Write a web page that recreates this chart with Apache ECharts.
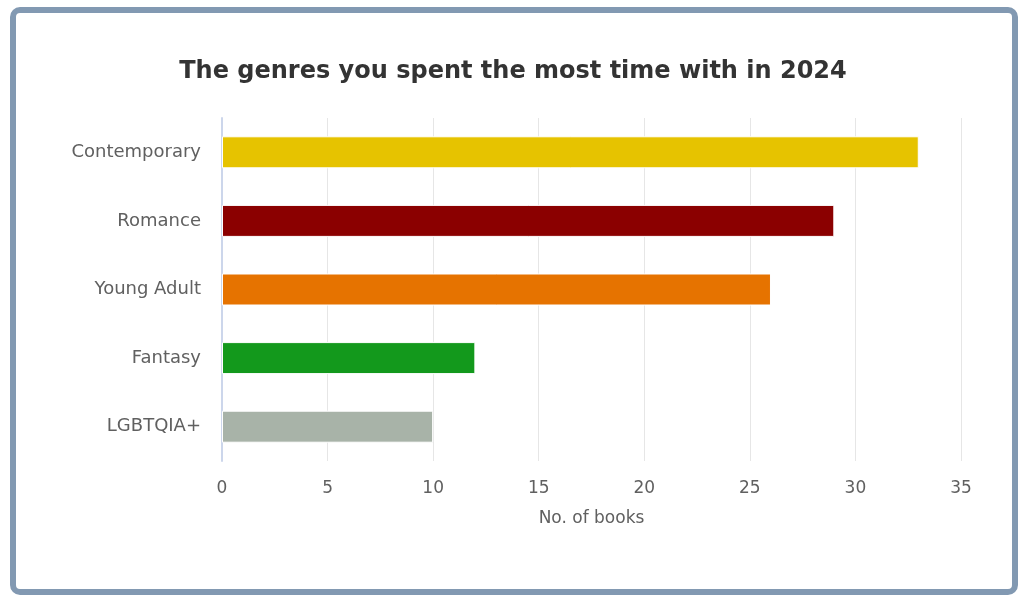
<!DOCTYPE html>
<html><head><meta charset="utf-8">
<script src="https://cdn.jsdelivr.net/npm/echarts@6/dist/echarts.min.js"></script>
<style>
html,body{margin:0;padding:0;background:#fff;}
#chart{position:absolute;left:0;top:0;width:1026px;height:604px;}
#frame{position:absolute;left:10px;top:7px;width:996px;height:576px;border:6px solid #8299b2;border-radius:10px;pointer-events:none;}
</style></head>
<body>
<div id="chart"></div>
<div id="frame"></div>
<script>
const titleText = 'The genres you spent the most time with in 2024';
const categories = ['Contemporary','Romance','Young Adult','Fantasy','LGBTQIA+'];
const values = [33, 29, 26, 12, 10];
const colors = ['#e6c300','#8b0000','#e67300','#13991c','#a8b3a8'];
const axisName = 'No. of books';

const chart = echarts.init(document.getElementById('chart'));
const font = "'DejaVu Sans', sans-serif";
chart.setOption({
  animation:false,
  title:{text:titleText,left:'center',top:55,textStyle:{fontFamily:font,fontSize:24,fontWeight:'bold',color:'#333333'}},
  grid:{left:222,right:65,top:118,bottom:143,containLabel:false},
  xAxis:{type:'value',min:0,max:35,interval:5,
    axisLine:{show:false},axisTick:{show:false},
    splitLine:{lineStyle:{color:'#e6e6e6',width:1}},
    axisLabel:{fontFamily:font,fontSize:17,color:'#606060',margin:19},
    name:axisName,nameLocation:'middle',nameGap:49,
    nameTextStyle:{fontFamily:font,fontSize:17,color:'#606060'}},
  yAxis:{type:'category',data:categories,inverse:true,
    axisLine:{show:true,lineStyle:{color:'#ccd6eb',width:2}},
    axisTick:{show:false},
    axisLabel:{fontFamily:font,fontSize:18,color:'#606060',margin:21}},
  series:[{type:'bar',barWidth:32,
    data:values.map((v,i)=>({value:v,itemStyle:{color:colors[i]}})),
    itemStyle:{borderColor:'#ffffff',borderWidth:1}}]
});
</script>
</body></html>
